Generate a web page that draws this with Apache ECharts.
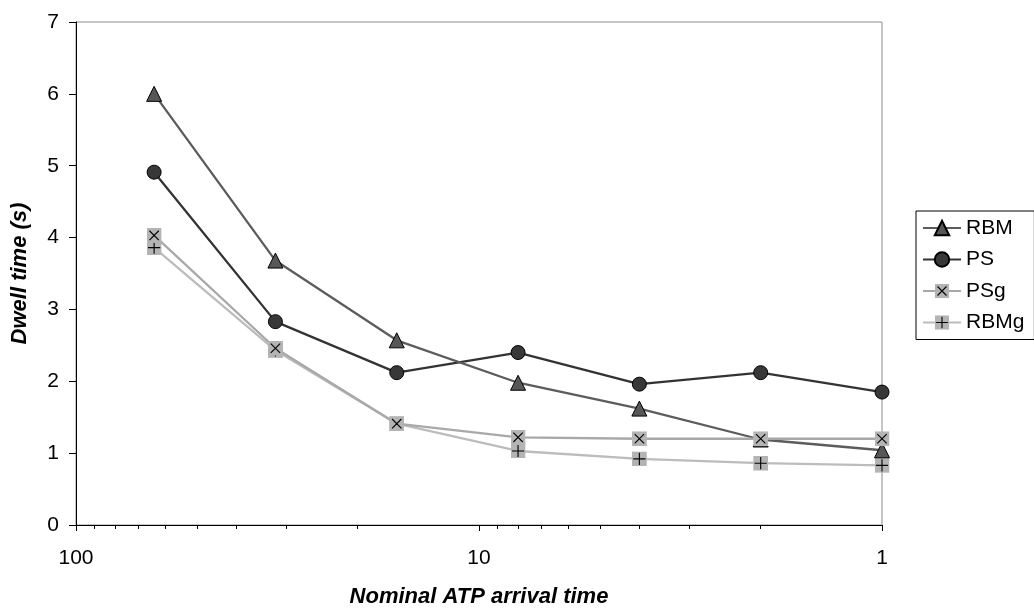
<!DOCTYPE html>
<html>
<head>
<meta charset="utf-8">
<script src="https://cdn.jsdelivr.net/npm/echarts@6/dist/echarts.min.js"></script>
<style>
  html, body { margin: 0; padding: 0; background: #fff; }
  #chart { width: 1034px; height: 613px; }
</style>
</head>
<body>
<div id="chart"></div>
<script>
// Nominal ATP arrival times (log axis, shown from 100 down to 1)
const arrivalTimes = [64, 32, 16, 8, 4, 2, 1];

// Dwell time (s) per scheme
const rbm  = [6.00, 3.68, 2.57, 1.98, 1.62, 1.19, 1.04];
const ps   = [4.91, 2.83, 2.12, 2.40, 1.96, 2.12, 1.85];
const psg  = [4.03, 2.46, 1.41, 1.22, 1.20, 1.20, 1.20];
const rbmg = [3.86, 2.43, 1.41, 1.03, 0.92, 0.86, 0.83];

const seriesNames = ['RBM', 'PS', 'PSg', 'RBMg'];
const minorTickValues = [2, 3, 4, 5, 6, 7, 8, 9, 20, 30, 40, 50, 60, 70, 80, 90];

const FONT = "'Liberation Sans', Arial, Helvetica, sans-serif";

function pairs(values) {
  return arrivalTimes.map((x, i) => [x, values[i]]);
}

// Grey square markers with a black glyph drawn over them
function svgMarker(glyph) {
  const svg =
    '<svg xmlns="http://www.w3.org/2000/svg" width="32" height="32" viewBox="0 0 16 16">' +
    '<rect x="0" y="0" width="16" height="16" fill="#b4b4b4"/>' +
    '<path d="' + glyph + '" stroke="#000" stroke-width="1.2" fill="none"/>' +
    '</svg>';
  return 'image://data:image/svg+xml;charset=utf-8,' + encodeURIComponent(svg);
}
const crossMarker = svgMarker('M3,3L13,13M13,3L3,13');
const plusMarker = svgMarker('M8,1.5V14.5M1.5,8H14.5');

const chart = echarts.init(document.getElementById('chart'), null, { renderer: 'canvas' });

const option = {
  backgroundColor: '#ffffff',
  animation: false,
  textStyle: { fontFamily: FONT },
  grid: {
    left: 76, right: 152, top: 22, bottom: 87,
    show: true, borderColor: '#8c8c8c', borderWidth: 1,
    containLabel: false
  },
  legend: {
    orient: 'vertical',
    left: 916, top: 211,
    padding: [6, 10, 6, 6],
    itemWidth: 38, itemHeight: 18, itemGap: 9.5,
    borderColor: '#000', borderWidth: 1,
    textStyle: { fontSize: 21, color: '#000', fontFamily: FONT, lineHeight: 22, padding: [0, 0, 0, 0] },
    data: seriesNames
  },
  xAxis: [
    {
      type: 'log', logBase: 10, min: 1, max: 100, interval: 1,
      inverse: true, position: 'bottom',
      name: 'Nominal ATP arrival time', nameLocation: 'middle', nameGap: 61,
      nameTextStyle: { fontSize: 22, fontWeight: 'bold', fontStyle: 'italic', color: '#000', fontFamily: FONT },
      axisLine: { lineStyle: { color: '#000', width: 1 } },
      axisTick: { show: true, inside: false, length: 6, lineStyle: { color: '#000' } },
      axisLabel: { fontSize: 21, color: '#000', margin: 23, fontFamily: FONT },
      splitLine: { show: false }
    },
    {
      type: 'log', logBase: 10, min: 1, max: 100,
      inverse: true, position: 'bottom',
      axisLine: { show: false },
      axisTick: { show: true, length: 4, customValues: minorTickValues, lineStyle: { color: '#000' } },
      axisLabel: { show: false },
      splitLine: { show: false }
    }
  ],
  yAxis: {
    type: 'value', min: 0, max: 7, interval: 1,
    name: 'Dwell time (s)', nameLocation: 'middle', nameGap: 45, nameRotate: 90,
    nameTextStyle: { fontSize: 22, fontWeight: 'bold', fontStyle: 'italic', color: '#000', fontFamily: FONT },
    axisLine: { show: true, lineStyle: { color: '#000', width: 1 } },
    axisTick: { show: true, length: 7, lineStyle: { color: '#000' } },
    axisLabel: { fontSize: 21, color: '#000', margin: 17, fontFamily: FONT },
    splitLine: { show: false }
  },
  series: [
    {
      name: 'RBM', type: 'line', xAxisIndex: 0, data: pairs(rbm),
      symbol: 'triangle', symbolSize: 15,
      lineStyle: { color: '#5c5c5c', width: 2.3 },
      itemStyle: { color: '#575757', borderColor: '#000', borderWidth: 1 },
      z: 4
    },
    {
      name: 'PS', type: 'line', xAxisIndex: 0, data: pairs(ps),
      symbol: 'circle', symbolSize: 14,
      lineStyle: { color: '#333333', width: 2.3 },
      itemStyle: { color: '#383838', borderColor: '#000', borderWidth: 1 },
      z: 3
    },
    {
      name: 'PSg', type: 'line', xAxisIndex: 0, data: pairs(psg),
      symbol: crossMarker, symbolSize: 15,
      lineStyle: { color: '#a8a8a8', width: 2.3 },
      itemStyle: { color: '#a8a8a8' },
      z: 5
    },
    {
      name: 'RBMg', type: 'line', xAxisIndex: 0, data: pairs(rbmg),
      symbol: plusMarker, symbolSize: 15,
      lineStyle: { color: '#bcbcbc', width: 2.3 },
      itemStyle: { color: '#bcbcbc' },
      z: 2
    }
  ]
};

chart.setOption(option);
</script>
</body>
</html>
